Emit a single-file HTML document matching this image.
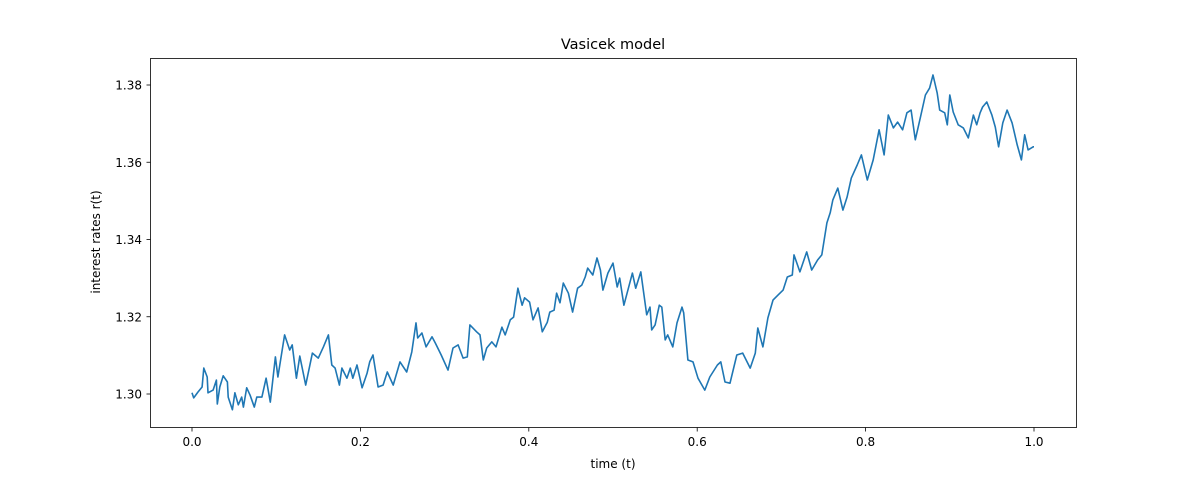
<!DOCTYPE html>
<html><head><meta charset="utf-8"><style>
body{margin:0;background:#fff;}
svg text{font-family:"DejaVu Sans","Liberation Sans",sans-serif;fill:#000;}
</style></head><body>
<svg id="chart" width="1196" height="480" xmlns="http://www.w3.org/2000/svg">
<rect width="1196" height="480" fill="#fff"/>
<text x="613" y="49" font-size="14.5" text-anchor="middle">Vasicek model</text>
<text x="613" y="468" font-size="12" text-anchor="middle">time (t)</text>
<text transform="translate(100,242) rotate(-90)" font-size="12" text-anchor="middle">interest rates r(t)</text>
<g id="ticks"></g>
<path id="series" fill="none" stroke="#1f77b4" stroke-width="1.6" stroke-linejoin="round"/>
<rect x="150.5" y="58.5" width="926" height="369" fill="none" stroke="#000" stroke-width="0.8"/>
</svg>
<script>
const xTicks=[0.0,0.2,0.4,0.6,0.8,1.0];
const xTickLabels=["0.0","0.2","0.4","0.6","0.8","1.0"];
const yTicks=[1.30,1.32,1.34,1.36,1.38];
const yTickLabels=["1.30","1.32","1.34","1.36","1.38"];
const times=[0,0.002,0.007,0.012,0.014,0.018,0.019,0.025,0.029,0.030,0.033,0.037,0.042,0.043,0.048,0.051,0.055,0.059,0.061,0.065,0.069,0.074,0.077,0.083,0.088,0.093,0.099,0.102,0.110,0.116,0.119,0.124,0.128,0.135,0.143,0.150,0.156,0.162,0.166,0.170,0.175,0.178,0.184,0.188,0.191,0.196,0.202,0.208,0.211,0.215,0.221,0.227,0.232,0.239,0.247,0.255,0.261,0.266,0.268,0.273,0.278,0.285,0.289,0.296,0.304,0.310,0.316,0.322,0.327,0.330,0.338,0.342,0.346,0.350,0.356,0.361,0.368,0.372,0.378,0.382,0.387,0.392,0.395,0.401,0.405,0.411,0.416,0.422,0.425,0.430,0.433,0.437,0.441,0.447,0.452,0.458,0.463,0.467,0.470,0.476,0.481,0.485,0.488,0.494,0.500,0.505,0.508,0.513,0.523,0.527,0.533,0.540,0.544,0.546,0.550,0.555,0.558,0.562,0.565,0.571,0.576,0.582,0.584,0.589,0.595,0.601,0.609,0.615,0.624,0.628,0.633,0.639,0.647,0.654,0.663,0.669,0.672,0.678,0.684,0.690,0.696,0.702,0.707,0.713,0.715,0.722,0.730,0.736,0.743,0.748,0.754,0.758,0.761,0.767,0.773,0.778,0.783,0.790,0.795,0.802,0.809,0.816,0.822,0.827,0.833,0.838,0.844,0.849,0.854,0.859,0.865,0.871,0.876,0.880,0.885,0.888,0.894,0.897,0.900,0.904,0.910,0.916,0.922,0.928,0.932,0.936,0.939,0.944,0.950,0.954,0.958,0.963,0.968,0.974,0.980,0.985,0.989,0.993,0.999,1.0];
const rates=[1.3003,1.2990,1.3005,1.3018,1.3067,1.3044,1.3003,1.3010,1.3036,1.2974,1.3018,1.3047,1.3031,1.2992,1.2959,1.3003,1.2972,1.2992,1.2966,1.3016,1.2997,1.2966,1.2992,1.2992,1.3041,1.2979,1.3096,1.3044,1.3153,1.3114,1.3127,1.3041,1.3098,1.3023,1.3106,1.3093,1.3122,1.3153,1.3075,1.3067,1.3023,1.3067,1.3041,1.3067,1.3041,1.3075,1.3016,1.3054,1.3083,1.3101,1.3018,1.3023,1.3057,1.3023,1.3083,1.3057,1.3109,1.3184,1.3145,1.3158,1.3122,1.3148,1.3132,1.3101,1.3062,1.3119,1.3127,1.3093,1.3096,1.3179,1.3161,1.3153,1.3088,1.3119,1.3135,1.3122,1.3173,1.3153,1.3192,1.3199,1.3274,1.3230,1.3249,1.3238,1.3192,1.3223,1.3161,1.3186,1.3212,1.3217,1.3261,1.3236,1.3287,1.3261,1.3212,1.3274,1.3282,1.3303,1.3326,1.3308,1.3352,1.3321,1.3269,1.3313,1.3339,1.3277,1.3300,1.3230,1.3313,1.3274,1.3316,1.3205,1.3225,1.3166,1.3179,1.3230,1.3225,1.3140,1.3153,1.3122,1.3184,1.3225,1.3210,1.3088,1.3083,1.3041,1.3010,1.3044,1.3075,1.3083,1.3031,1.3028,1.3101,1.3106,1.3067,1.3106,1.3171,1.3122,1.3197,1.3243,1.3256,1.3269,1.3303,1.3308,1.3360,1.3316,1.3368,1.3321,1.3347,1.3360,1.3443,1.3469,1.3502,1.3533,1.3476,1.3510,1.3559,1.3593,1.3619,1.3554,1.3606,1.3684,1.3619,1.3722,1.3689,1.3704,1.3684,1.3728,1.3735,1.3658,1.3715,1.3774,1.3792,1.3826,1.3779,1.3735,1.3728,1.3697,1.3774,1.3730,1.3697,1.3689,1.3663,1.3722,1.3697,1.3728,1.3743,1.3756,1.3722,1.3691,1.3640,1.3702,1.3735,1.3702,1.3645,1.3606,1.3671,1.3632,1.3640,1.3640];

const X0=192,X1=1034,Y0=394,Y1=85;
function sx(t){return X0+(t-0)/(1-0)*(X1-X0);}
function sy(r){return Y0+(r-1.30)/(1.38-1.30)*(Y1-Y0);}
const NS="http://www.w3.org/2000/svg";
const g=document.getElementById('ticks');
function mk(tag,attrs){const e=document.createElementNS(NS,tag);for(const k in attrs)e.setAttribute(k,attrs[k]);return e;}
xTicks.forEach((v,i)=>{
  const x=sx(v);
  const l=mk('line',{x1:x,x2:x,y1:427.5,y2:431.5,stroke:'#000','stroke-width':0.8});
  
  
  g.appendChild(l);
  const t=mk('text',{x:x,y:446,'font-size':12,'text-anchor':'middle'});
  t.textContent=xTickLabels[i];
  
  
  g.appendChild(t);
});
yTicks.forEach((v,i)=>{
  const y=sy(v);
  const l=mk('line',{x1:146.5,x2:150.5,y1:y,y2:y,stroke:'#000','stroke-width':0.8});
  
  
  g.appendChild(l);
  const t=mk('text',{x:142,y:y+4.5,'font-size':12,'text-anchor':'end'});
  t.textContent=yTickLabels[i];
  
  
  g.appendChild(t);
});
let d='';
times.forEach((t,i)=>{d+=(i?'L':'M')+sx(t).toFixed(1)+','+sy(rates[i]).toFixed(1);});
document.getElementById('series').setAttribute('d',d);
</script>
</body></html>
